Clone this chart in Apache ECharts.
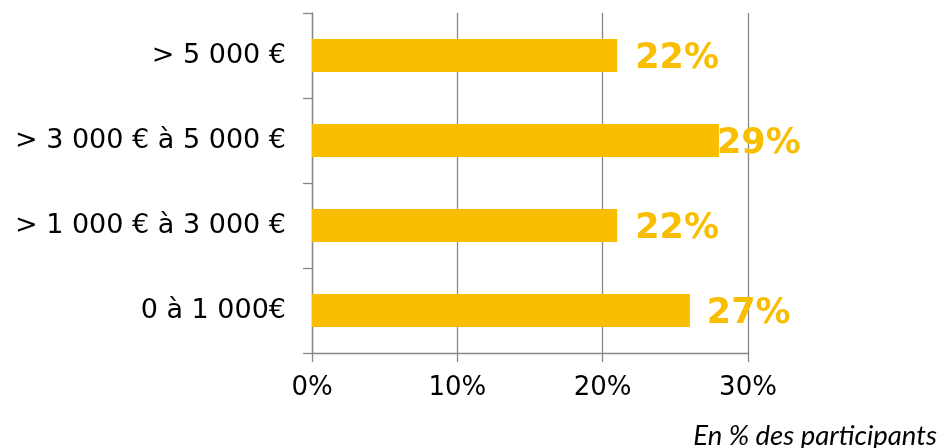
<!DOCTYPE html>
<html>
<head>
<meta charset="utf-8">
<script src="https://cdn.jsdelivr.net/npm/echarts@6/dist/echarts.min.js"></script>
<style>
html,body{margin:0;padding:0;background:#fff;}
#chart{width:948px;height:448px;}
</style>
</head>
<body>
<div id="chart"></div>
<script>
// Categories, top to bottom
const categories = ['> 5 000 €', '> 3 000 € à 5 000 €', '> 1 000 € à 3 000 €', '0 à 1 000€'];
// Bar lengths as drawn (percent)
const values = [21, 28, 21, 26];
// Value labels as printed
const valueLabels = ['22%', '29%', '22%', '27%'];
// X tick values
const xTicks = [0, 10, 20, 30];
const footnote = 'En % des participants';

const gold = '#F9BE00';
const grey = '#878787';
const labelDistances = [18, -2, 18, 17];

const chart = echarts.init(document.getElementById('chart'), null, {renderer: 'canvas'});
chart.setOption({
  animation: false,
  backgroundColor: '#ffffff',
  grid: {left: 312, right: 200, top: 13, bottom: 95, containLabel: false},
  xAxis: {
    type: 'value',
    min: xTicks[0],
    max: xTicks[xTicks.length - 1],
    interval: xTicks[1] - xTicks[0],
    axisLine: {show: true, lineStyle: {color: grey, width: 1.3}},
    axisTick: {show: true, length: 9, lineStyle: {color: grey, width: 1.3}},
    splitLine: {show: true, lineStyle: {color: grey, width: 1.3}},
    axisLabel: {
      formatter: '{value}%',
      color: '#000',
      fontFamily: 'DejaVu Sans',
      fontSize: 26,
      margin: 22
    }
  },
  yAxis: {
    type: 'category',
    data: categories,
    inverse: true,
    axisLine: {show: true, lineStyle: {color: grey, width: 1.3}},
    axisTick: {show: true, length: 9, lineStyle: {color: grey, width: 1.3}},
    splitLine: {show: false},
    axisLabel: {
      color: '#000',
      fontFamily: 'DejaVu Sans',
      fontSize: 27,
      margin: 26,
      padding: [4, 0, 0, 0]
    }
  },
  series: [{
    type: 'bar',
    barWidth: 33,
    data: values.map((v, i) => ({
      value: v,
      label: {distance: labelDistances[i]}
    })),
    itemStyle: {color: gold},
    label: {
      show: true,
      position: 'right',
      offset: [0, 3],
      color: gold,
      fontFamily: 'DejaVu Sans',
      fontWeight: 'bold',
      fontSize: 35,
      formatter: p => valueLabels[p.dataIndex]
    }
  }],
  graphic: [{
    type: 'text',
    right: 11,
    top: 423,
    style: {
      text: footnote,
      fill: '#000',
      font: 'italic 27.5px Lato'
    }
  }]
});
</script>
</body>
</html>
